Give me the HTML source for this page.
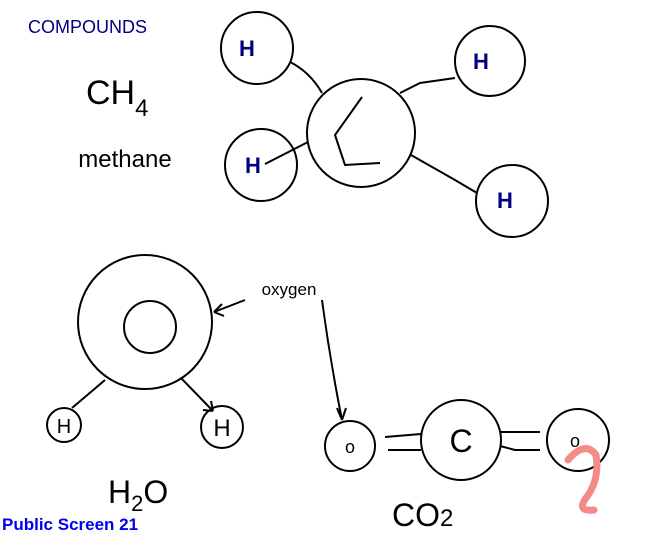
<!DOCTYPE html>
<html><head><style>
html,body{margin:0;padding:0;background:#fff;}
svg{display:block;}
</style></head><body>
<svg width="651" height="551" viewBox="0 0 651 551" xmlns="http://www.w3.org/2000/svg">
<rect width="651" height="551" fill="#fff"/>
<text x="28" y="33" font-family="Liberation Sans, sans-serif" font-size="18" fill="#000080">COMPOUNDS</text>
<g fill="none" stroke="#000" stroke-width="2">
<circle cx="257" cy="48" r="36"/>
<circle cx="490" cy="61" r="35"/>
<circle cx="261" cy="165" r="36"/>
<circle cx="512" cy="201" r="36"/>
<circle cx="361" cy="133" r="54"/>
<path d="M290 62 Q310 72 322 93"/>
<path d="M400 93 L420 83 L455 78"/>
<path d="M411 155 L455 180 L477 193"/>
<path d="M265 164 L308 142"/>
<path d="M362 97 L335 135 L345 165 L380 163"/>
<circle cx="145" cy="322" r="67"/>
<circle cx="150" cy="327" r="26"/>
<circle cx="64" cy="425" r="17"/>
<circle cx="222" cy="427" r="21"/>
<path d="M105 380 L72 408"/>
<path d="M181 378 L213 411 M213 411 L211 401 M213 411 L203 410"/>
<path d="M245 300 L214 312 M214 312 L222 304 M214 312 L224 316"/>
<path d="M322 300 Q330 360 342 420 M342 420 L337 408 M342 420 L346 408"/>
<circle cx="350" cy="446" r="25"/>
<circle cx="461" cy="440" r="40"/>
<circle cx="578" cy="440" r="31"/>
<path d="M385 437 L421 434 M388 450 L421 450"/>
<path d="M500 432 L540 432 M500 446 L515 450 L540 450"/>
</g>
<g font-family="Liberation Sans, sans-serif" font-weight="bold" fill="#000080" font-size="22" text-anchor="middle">
<text x="247" y="56">H</text>
<text x="481" y="69">H</text>
<text x="253" y="173">H</text>
<text x="505" y="208">H</text>
</g>
<g font-family="Liberation Sans, sans-serif" fill="#000" text-anchor="middle">
<text x="86" y="104" font-size="34" text-anchor="start">CH<tspan font-size="24" dy="12">4</tspan></text>
<text x="125" y="167" font-size="24">methane</text>
<text x="64" y="433" font-size="20">H</text>
<text x="222" y="436" font-size="24">H</text>
<text x="289" y="295" font-size="17">oxygen</text>
<text x="350" y="453" font-size="18">o</text>
<text x="461" y="452" font-size="32">C</text>
<text x="575" y="447" font-size="18">o</text>
<text x="108" y="503" font-size="32" text-anchor="start">H<tspan font-size="22" dy="8">2</tspan><tspan dy="-8">O</tspan></text>
<text x="392" y="526" font-size="32" text-anchor="start">CO<tspan font-size="24">2</tspan></text>
</g>
<text x="2" y="530" font-family="Liberation Sans, sans-serif" font-weight="bold" font-size="17" fill="#0000ee">Public Screen 21</text>
<path d="M568 460 Q585 440 596 455 Q600 480 586 498 Q576 512 594 510" fill="none" stroke="#f48a8a" stroke-width="7" stroke-linecap="round"/>
</svg>
</body></html>
